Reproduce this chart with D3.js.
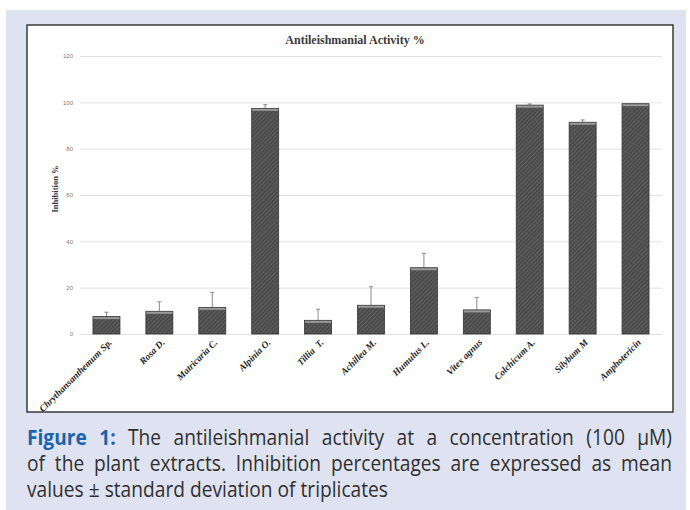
<!DOCTYPE html>
<html>
<head>
<meta charset="utf-8">
<script src="https://cdn.jsdelivr.net/npm/d3@7"></script>
<style>
  body { margin: 0; background: #fff; }
  svg { display: block; }
</style>
</head>
<body>
<svg id="fig" width="690" height="510"></svg>
<script>
// extracts and inhibition values
var extracts = ["Chrythansanthemum Sp.", "Rosa D.", "Matricaria C.", "Alpinia O.", "Tillia  T.",
    "Achillea M.", "Humulus L.", "Vitex agnus", "Colchicum A.", "Silybum M", "Amphotericin"];
var inhibition = [7.5, 9.8, 11.5, 97.4, 5.9, 12.4, 28.6, 10.4, 98.8, 91.4, 99.4];
var stdDev = [1.9, 4.1, 6.5, 1.6, 4.8, 8.0, 6.2, 5.4, 0.5, 1.0, 0];
var yTicks = [0, 20, 40, 60, 80, 100, 120];
var captionLines = [
    ["Figure 1:", "The antileishmanial activity at a concentration (100 μM)"],
    ["", "of the plant extracts. Inhibition percentages are expressed as mean"],
    ["", "values ± standard deviation of triplicates"]
];

var svg = d3.select("#fig");

// lavender figure panel
svg.append("rect").attr("x", 6).attr("y", 10).attr("width", 680).attr("height", 500)
    .attr("fill", "#dfe3f1");

// white chart box
svg.append("rect").attr("x", 27).attr("y", 25).attr("width", 646).attr("height", 387)
    .attr("fill", "#fff").attr("stroke", "#3a3a3a").attr("stroke-width", 1.5);

var defs = svg.append("defs");
var pat = defs.append("pattern").attr("id", "hatch")
    .attr("width", 3).attr("height", 3)
    .attr("patternUnits", "userSpaceOnUse")
    .attr("patternTransform", "rotate(45)");
pat.append("rect").attr("width", 3).attr("height", 3).attr("fill", "#4b4b4b");
pat.append("line").attr("x1", 0).attr("y1", 0).attr("x2", 0).attr("y2", 3)
    .attr("stroke", "#6e6e6e").attr("stroke-width", 1.2);

var margin = {left: 80, right: 662, top: 56, bottom: 334};

var x = d3.scaleBand()
    .domain(extracts)
    .range([margin.left, margin.right])
    .paddingInner(0.49)
    .paddingOuter(0.245);

var y = d3.scaleLinear()
    .domain([0, 120])
    .range([margin.bottom, margin.top]);

// grid lines + y tick labels
var yAxis = svg.append("g")
    .attr("transform", "translate(" + margin.left + ",0)")
    .call(d3.axisLeft(y).tickValues(yTicks).tickSize(-(margin.right - margin.left)).tickPadding(7));
yAxis.select(".domain").remove();
yAxis.selectAll(".tick line").attr("stroke", "#e2e2e2").attr("stroke-width", 1);
yAxis.selectAll(".tick text")
    .attr("fill", "#7a7a7a")
    .style("font-family", "'Liberation Sans', sans-serif")
    .style("font-size", "6px");

// title
svg.append("text")
    .attr("x", 355).attr("y", 44)
    .attr("text-anchor", "middle")
    .attr("fill", "#3a3a3a")
    .style("font-family", "'Liberation Serif', serif")
    .style("font-weight", "bold")
    .style("font-size", "12px")
    .text("Antileishmanial Activity %");

// y axis title
svg.append("text")
    .attr("transform", "translate(58,189) rotate(-90)")
    .attr("text-anchor", "middle")
    .attr("fill", "#333")
    .style("font-family", "'Liberation Serif', serif")
    .style("font-weight", "bold")
    .style("font-size", "8.5px")
    .text("Inhibition %");

// error bars (upper half)
var errs = svg.append("g").selectAll("g")
    .data(extracts.map(function(d, i) { return {name: d, v: inhibition[i], sd: stdDev[i]}; })
        .filter(function(d) { return d.sd > 0; }))
    .enter().append("g")
    .attr("stroke", "#8a8a8a").attr("stroke-width", 1);
errs.append("line")
    .attr("x1", function(d) { return x(d.name) + x.bandwidth() / 2; })
    .attr("x2", function(d) { return x(d.name) + x.bandwidth() / 2; })
    .attr("y1", function(d) { return y(d.v); })
    .attr("y2", function(d) { return y(d.v + d.sd); });
errs.append("line")
    .attr("x1", function(d) { return x(d.name) + x.bandwidth() / 2 - 2; })
    .attr("x2", function(d) { return x(d.name) + x.bandwidth() / 2 + 2; })
    .attr("y1", function(d) { return y(d.v + d.sd); })
    .attr("y2", function(d) { return y(d.v + d.sd); });

// bars
var bars = svg.append("g").selectAll("g")
    .data(extracts)
    .enter().append("g");
bars.append("rect")
    .attr("x", function(d) { return x(d); })
    .attr("y", function(d, i) { return y(inhibition[i]); })
    .attr("width", x.bandwidth())
    .attr("height", function(d, i) { return y(0) - y(inhibition[i]); })
    .attr("fill", "url(#hatch)")
    .attr("stroke", "#333")
    .attr("stroke-width", 0.8);
// bevel highlight at top of each bar
bars.append("rect")
    .attr("x", function(d) { return x(d) + 0.5; })
    .attr("y", function(d, i) { return y(inhibition[i]) + 0.5; })
    .attr("width", x.bandwidth() - 1)
    .attr("height", 2)
    .attr("fill", "#9a9a9a");

// x labels rotated
svg.append("g").selectAll("text")
    .data(extracts)
    .enter().append("text")
    .attr("transform", function(d) {
        return "translate(" + (x(d) + x.bandwidth() / 2 + 6) + ",343) rotate(-45)";
    })
    .attr("text-anchor", "end")
    .attr("fill", "#1e1e1e")
    .style("font-family", "'Liberation Serif', serif")
    .style("font-weight", "bold")
    .style("font-style", "italic")
    .style("font-size", "9.5px")
    .style("white-space", "pre")
    .text(function(d) { return d; });

// caption, justified like the journal layout
var cap = svg.append("g");
var capFont = "'Open Sans', sans-serif";
var capSize = 21;
var baselines = [445, 471, 497];
var capLeft = 27, capRight = 672;

function measure(str, bold) {
    var t = cap.append("text")
        .style("font-family", capFont).style("font-size", capSize + "px")
        .style("font-weight", bold ? "bold" : "normal")
        .text(str);
    var w = t.node().getComputedTextLength();
    t.remove();
    return w;
}

// horizontal condensing so the last (unjustified) line fits its width
var sx = 361 / measure(captionLines[2][1], false);
var spaceW = measure("a a", false) - measure("aa", false);
var inner = cap.append("g").attr("transform", "translate(" + capLeft + ",0) scale(" + sx + ",1)");
var fullW = (capRight - capLeft) / sx;

captionLines.forEach(function(line, li) {
    var words = [];
    if (line[0]) line[0].split(" ").forEach(function(w) { words.push({t: w, bold: true}); });
    line[1].split(" ").forEach(function(w) { words.push({t: w, bold: false}); });
    words.forEach(function(w) { w.w = measure(w.t, w.bold); });
    var total = d3.sum(words, function(w) { return w.w; });
    var gap = li < 2 ? (fullW - total) / (words.length - 1) : spaceW;
    var cx = 0;
    words.forEach(function(w) {
        inner.append("text")
            .attr("x", cx).attr("y", baselines[li])
            .attr("fill", w.bold ? "#1b63ad" : "#2f2f2f")
            .style("font-family", capFont)
            .style("font-size", capSize + "px")
            .style("font-weight", w.bold ? "bold" : "normal")
            .text(w.t);
        cx += w.w + gap;
    });
});
</script>
</body>
</html>
